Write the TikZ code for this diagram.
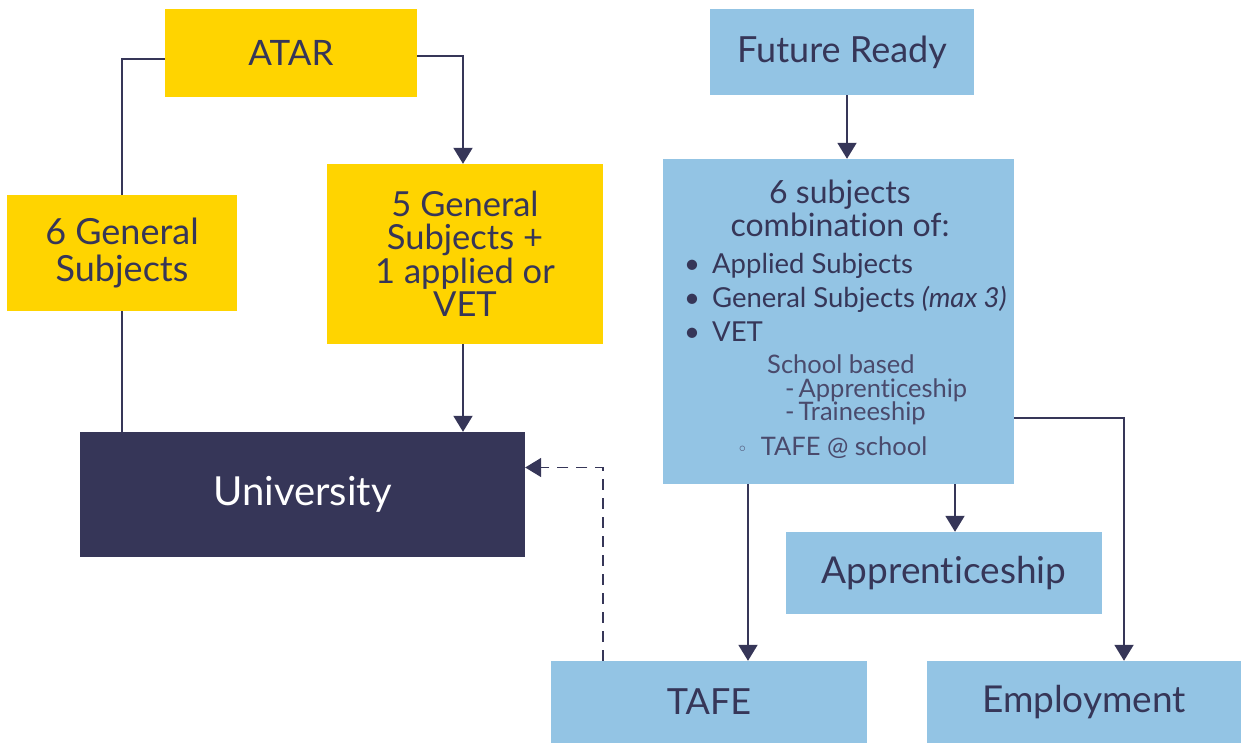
\documentclass[tikz,border=0pt]{standalone}
\usepackage{fontspec}
\setmainfont{Lato}[Ligatures=NoCommon]
\newfontfamily\symfont{DejaVu Sans}
\usetikzlibrary{arrows.meta}
\definecolor{atargold}{HTML}{FFD400}
\definecolor{readyblue}{HTML}{93C4E4}
\definecolor{uninavy}{HTML}{363658}
\definecolor{subgrey}{HTML}{4A4A6C}
\tikzset{
  box/.style={inner sep=0pt, align=center, text=uninavy,
    font=\fontsize{36}{37}\selectfont},
  goldbox/.style={box, fill=atargold},
  bluebox/.style={box, fill=readyblue},
  link/.style={draw=uninavy, line width=2pt},
  arrowlink/.style={link, -{Triangle[width=19pt,length=16pt]}},
  dashlink/.style={arrowlink, line width=1.6pt, dash pattern=on 11pt off 8pt},
  listtext/.style={inner sep=0pt, anchor=base west, text=uninavy,
    font=\fontsize{27.5}{32}\selectfont},
  subtext/.style={listtext, text=subgrey, font=\fontsize{25.5}{30}\selectfont},
}
\begin{document}
\begin{tikzpicture}[x=1pt, y=-1pt]
    \useasboundingbox (0,0) rectangle (1242,744);
    % ATAR side
    \node[goldbox, minimum width=252pt, minimum height=88pt,
      font=\fontsize{35}{37}\selectfont] (atar) at (291,53) {ATAR};
    \node[goldbox, minimum width=230pt, minimum height=116pt] (six) at (122,253) {6 General\\Subjects};
    \node[goldbox, minimum width=276pt, minimum height=180pt,
      font=\fontsize{34.5}{33.5}\selectfont] (five) at (465,254)
      {5 General\\Subjects +\\1 applied or\\VET};
    \node[box, fill=uninavy, text=white, minimum width=445pt, minimum height=125pt,
      font=\fontsize{40}{44}\selectfont] (uni) at (302.5,494.5) {University};
    % Future Ready side
    \node[bluebox, minimum width=264pt, minimum height=86pt] (ready) at (842,52) {Future Ready};
    \node[bluebox, minimum width=351pt, minimum height=325pt] (combo) at (838.5,321.5) {};
    \node[bluebox, minimum width=316pt, minimum height=82pt,
      font=\fontsize{37}{40}\selectfont] (appr) at (944,573) {Apprenticeship};
    \node[bluebox, minimum width=316pt, minimum height=82pt,
      font=\fontsize{36}{40}\selectfont] (tafe) at (709,702) {TAFE};
    \node[bluebox, minimum width=314pt, minimum height=82pt,
      font=\fontsize{37}{40}\selectfont] (employ) at (1084,702) {Employment};
    % inside the combination box
    \node[box, anchor=base, font=\fontsize{32}{33}\selectfont] (combotitle) at (840,236)
      {6 subjects\\combination of:};
    \node[listtext] (itemapplied) at (684,273) {•\hspace{12pt}Applied Subjects};
    \node[listtext] (itemgeneral) at (684,307) {•\hspace{12pt}General Subjects \textit{(max 3)}};
    \node[listtext] (itemvet) at (684,341) {•\hspace{12pt}VET};
    \node[subtext] (schoolbased) at (767,373) {School based};
    \node[subtext] (schoolappr) at (785,397) {-\hspace{4pt}Apprenticeship};
    \node[subtext] (schooltrain) at (785,420) {-\hspace{4pt}Traineeship};
    \node[subtext] (tafeschool) at (737,455) {{\symfont\fontsize{18}{20}\selectfont ◦}\hspace{13pt}TAFE @ school};
    % connectors
    \draw[link] ([yshift=-6pt]atar.west) -| (six.north);
    \draw[link] (six.south) -- (six.south |- uni.north);
    \draw[arrowlink] ([yshift=-3pt]atar.east) -| ([xshift=-2pt]five.north);
    \draw[arrowlink] ([xshift=-2pt]five.south) -- ([xshift=-2pt]five.south |- uni.north);
    \draw[dashlink] ([xshift=-106pt]tafe.north) |- ([yshift=27pt]uni.east);
    \draw[arrowlink] ([xshift=5pt]ready.south) -- ([xshift=5pt]ready.south |- combo.north);
    \draw[arrowlink] ([xshift=39pt]tafe.north |- combo.south) -- ([xshift=39pt]tafe.north);
    \draw[arrowlink] ([xshift=11pt]appr.north |- combo.south) -- ([xshift=11pt]appr.north);
    \draw[arrowlink] ([yshift=-96pt]combo.east) -| ([xshift=40pt]employ.north);
\end{tikzpicture}
\end{document}
